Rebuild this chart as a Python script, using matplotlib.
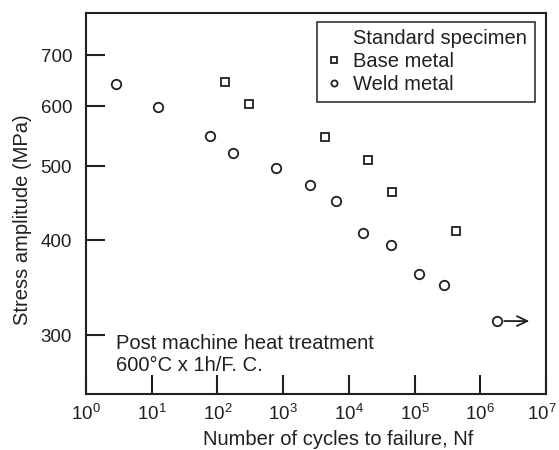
import matplotlib
matplotlib.use("Agg")
import matplotlib.pyplot as plt
from matplotlib.lines import Line2D
from matplotlib.ticker import NullLocator
from matplotlib.transforms import ScaledTranslation

# Data (cycles to failure vs stress amplitude)
base_cycles = [130, 306, 4390, 19800, 45900, 428000]
base_stress = [645, 603, 547, 510, 462, 411]

weld_cycles = [2.9, 12.3, 77, 175, 780, 2570, 6300, 16600, 43400, 118000, 284000, 1.82e6]
weld_stress = [641, 598, 548, 520, 497, 472, 450, 409, 394, 361, 349, 313]

# run-out specimen arrow (last weld point, did not fail)
runout_end = 5.6e6

x_ticks = [10 ** i for i in range(8)]
y_ticks = [300, 400, 500, 600, 700]

INK = "#231f20"
FS = 14.5

plt.rcParams['font.family'] = ['Liberation Sans', 'DejaVu Sans']
plt.rcParams['mathtext.fontset'] = 'custom'
plt.rcParams['mathtext.rm'] = 'Liberation Sans'
plt.rcParams['mathtext.it'] = 'Liberation Sans:italic'
plt.rcParams['text.color'] = INK
plt.rcParams['axes.labelcolor'] = INK

fig = plt.figure(figsize=(5.59, 4.5), dpi=100)
ax = fig.add_axes([0.1538, 0.1244, 0.8229, 0.8467])

ax.plot(base_cycles, base_stress, linestyle='none', marker='s', ms=6.3,
        mfc='white', mec=INK, mew=1.3, label='Base metal')
ax.plot(weld_cycles, weld_stress, linestyle='none', marker='o', ms=6.8,
        mfc='white', mec=INK, mew=1.3, label='Weld metal')

ax.annotate('', xy=(runout_end, weld_stress[-1]), xytext=(weld_cycles[-1], weld_stress[-1]),
            arrowprops=dict(arrowstyle='->,head_length=0.75,head_width=0.35', lw=1.3,
                            color=INK, shrinkA=5, shrinkB=0))

ax.set_xscale('log')
ax.set_yscale('log')
ax.set_xlim(1, 1e7)
ax.set_ylim(251, 795)
ax.set_xticks(x_ticks)
ax.set_yticks(y_ticks, labels=[str(v) for v in y_ticks])
ax.xaxis.set_minor_locator(NullLocator())
ax.yaxis.set_minor_locator(NullLocator())

ax.tick_params(direction='in', length=14, width=1.5, color=INK, labelcolor=INK,
               top=False, right=False)
ax.tick_params(axis='y', pad=10, labelsize=13.5)
ax.tick_params(axis='x', pad=7, labelsize=13.5)
for sp in ax.spines.values():
    sp.set_linewidth(1.5)
    sp.set_color(INK)

# nudge the 10^7 label a few pixels left so it stays on the canvas
last_lbl = ax.xaxis.get_major_ticks()[-1].label1
last_lbl.set_transform(last_lbl.get_transform() + ScaledTranslation(-4 / 100, 0, fig.dpi_scale_trans))

ax.set_xlabel('Number of cycles to failure, Nf', fontsize=FS)
ax.set_ylabel('Stress amplitude (MPa)', fontsize=FS)
ax.xaxis.set_label_coords(0.548, -0.095)
ax.yaxis.set_label_coords(-0.117, 0.457)

ax.text(0.065, 0.1037, 'Post machine heat treatment\n600°C x 1h/F. C.', transform=ax.transAxes,
        fontsize=FS, ha='left', va='center', linespacing=1.15)

# legend with a text-only header row
header = Line2D([], [], linestyle='none', marker=None)
handles, labels = ax.get_legend_handles_labels()
leg = ax.legend([header] + handles, ['Standard specimen'] + labels,
                loc='upper right', bbox_to_anchor=(0.976, 0.977), borderaxespad=0,
                fontsize=FS, markerscale=0.65, handlelength=0.95, handletextpad=0.5,
                borderpad=0.38, labelspacing=0.2, fancybox=False, framealpha=1,
                edgecolor=INK)
leg.get_frame().set_linewidth(1.1)

fig.savefig("out.png", dpi=100)
